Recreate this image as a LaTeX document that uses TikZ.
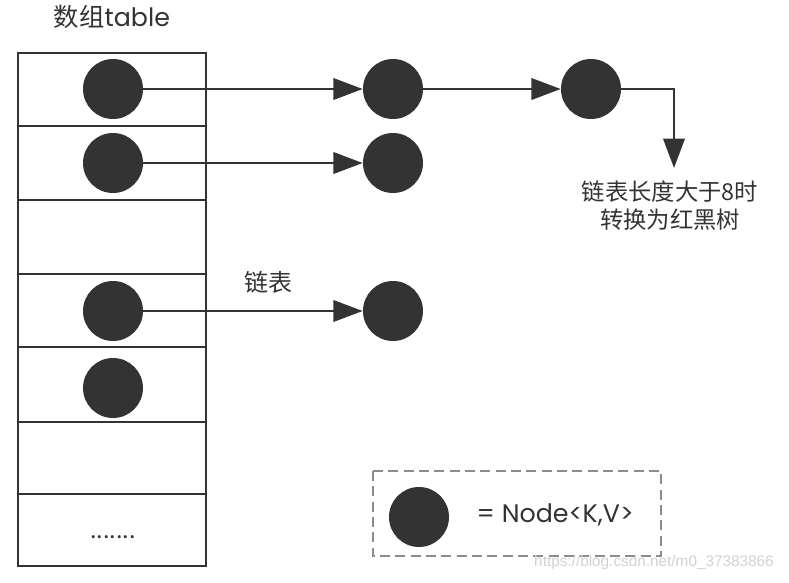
\documentclass[tikz,border=0pt]{standalone}
\usepackage{fontspec}
\setmainfont{Noto Sans CJK SC}
\newfontfamily\latinfont{Poppins}
\newfontfamily\urlfont{Liberation Sans}
\usetikzlibrary{arrows.meta}
\definecolor{ink}{HTML}{333333}

\begin{document}
\begin{tikzpicture}[x=0.75pt,y=0.75pt,
  entry/.style={circle,fill=ink,minimum size=45pt,inner sep=0pt},
  link/.style={draw=ink,line width=2pt,-{Triangle[length=22pt,width=16pt]}},
  cjktext/.style={text=ink,font=\fontsize{17.5}{21}\selectfont,align=center}]
\useasboundingbox (0,0) rectangle (789,-582);

\draw[ink,line width=2.2pt] (18,-53) rectangle (206,-566); % table
\foreach \y in {126,200,274,347,422,494}
  \draw[ink,line width=2.2pt] (18,-\y) -- (206,-\y); % rows

\node[cjktext,font=\fontsize{19}{22}\selectfont] (title) at (112,-17) {数组{\latinfont table}};

% buckets
\node[entry] (b0) at (113,-89) {};
\node[entry] (b1) at (113,-163) {};
\node[entry] (b3) at (113,-311) {};
\node[entry] (b4) at (113,-388) {};
\node[cjktext] (dots) at (113,-537) {.......};

% chains
\node[entry] (n00) at (393,-89) {};
\node[entry] (n01) at (591,-89) {};
\node[entry] (n10) at (393,-163) {};
\node[entry] (n30) at (393,-311) {};
\coordinate (tree) at (674,-168);

\draw[link] (b0) -- (n00);
\draw[link] (n00) -- (n01);
\draw[link] (b1) -- (n10);
\draw[link] (b3) -- (n30);
\draw[link] (n01) -| (tree);

\node[cjktext,font=\fontsize{18}{21}\selectfont] (chain) at (268,-282) {链表};
\node[cjktext] (treetext) at (670,-206) {链表长度大于8时\\转换为红黑树};

% legend
\draw[black!45,line width=1.5pt,dash pattern=on 7.5pt off 4pt] (373,-471) rectangle (661,-556);
\node[entry] (key) at (419,-517) {};
\node[text=ink,font=\latinfont\fontsize{19}{22}\selectfont,right] (keytext) at (472,-515) {= Node<K,V>};

\node[text=black!18,font=\urlfont\fontsize{11.5}{13}\selectfont] (mark) at (654,-563) {https://blog.csdn.net/m0\_37383866};
\end{tikzpicture}
\end{document}
